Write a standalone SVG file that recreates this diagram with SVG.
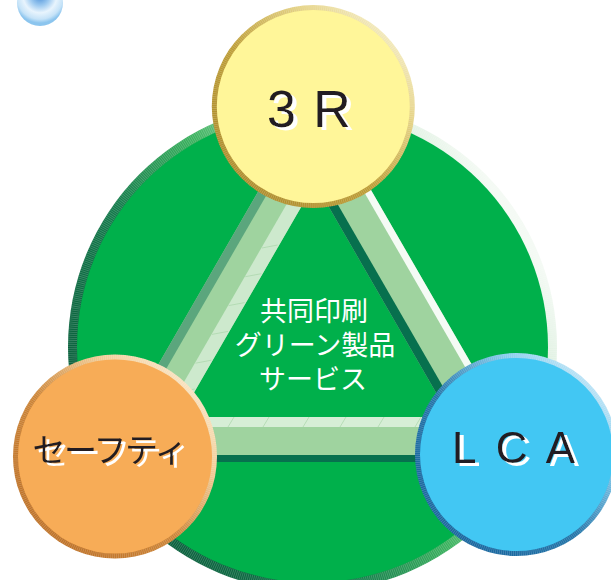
<svg xmlns="http://www.w3.org/2000/svg" width="611" height="580" viewBox="0 0 611 580">
<style>
  .lat{font-family:"Liberation Sans",Arial,sans-serif}
  .jp{font-family:"Noto Sans CJK JP","Noto Sans",sans-serif}
  .jpc{font-family:"Liberation Sans","Noto Sans CJK JP",sans-serif}
  .ink{fill:#231f20;filter:url(#fSh)}
  .ctr{fill:#ffffff;font-size:27px;text-anchor:middle}
  .tick{fill:none;stroke:#ffffff;stroke-opacity:0.2;stroke-dasharray:0.8 1.2}
  .joint{stroke:#a9d6a9;stroke-width:0.7;fill:none}
</style>
<defs>
  <filter id="fSh" x="-10%" y="-20%" width="130%" height="150%">
    <feOffset in="SourceAlpha" dx="4" dy="3" result="o"/>
    <feFlood flood-color="#ffffff"/>
    <feComposite in2="o" operator="in" result="w"/>
    <feMerge><feMergeNode in="w"/><feMergeNode in="SourceGraphic"/></feMerge>
  </filter>
  <linearGradient id="gRimBig" gradientUnits="userSpaceOnUse" x1="100" y1="450" x2="500" y2="200">
    <stop offset="0" stop-color="#0a5e3c"/>
    <stop offset="0.3" stop-color="#137a4b"/>
    <stop offset="0.52" stop-color="#3bb25e"/>
    <stop offset="0.72" stop-color="#b9e0c0"/>
    <stop offset="1" stop-color="#f4faf4"/>
  </linearGradient>
  <linearGradient id="gRim3R" x1="0" y1="1" x2="1" y2="0">
    <stop offset="0" stop-color="#a8862a"/>
    <stop offset="0.45" stop-color="#bd9d35"/>
    <stop offset="0.72" stop-color="#e6d488"/>
    <stop offset="1" stop-color="#fffff0"/>
  </linearGradient>
  <linearGradient id="gRimS" x1="0" y1="1" x2="1" y2="0">
    <stop offset="0" stop-color="#b86a22"/>
    <stop offset="0.45" stop-color="#cc8436"/>
    <stop offset="0.72" stop-color="#f3cf9a"/>
    <stop offset="1" stop-color="#fff6e6"/>
  </linearGradient>
  <linearGradient id="gRimL" x1="0" y1="1" x2="1" y2="0">
    <stop offset="0" stop-color="#15609a"/>
    <stop offset="0.45" stop-color="#2274a8"/>
    <stop offset="0.72" stop-color="#86cdee"/>
    <stop offset="1" stop-color="#eef9fe"/>
  </linearGradient>
  <radialGradient id="gSphere" cx="40" cy="-4" r="27" gradientUnits="userSpaceOnUse">
    <stop offset="0" stop-color="#4a8fd8"/>
    <stop offset="0.35" stop-color="#9cc9f0"/>
    <stop offset="0.62" stop-color="#e8f4fd"/>
    <stop offset="0.86" stop-color="#c6e3f8"/>
    <stop offset="1" stop-color="#8cc5ee"/>
  </radialGradient>
</defs>

<g id="decor-sphere">
  <circle cx="40" cy="3" r="23" fill="url(#gSphere)"/>
</g>

<g id="node-base">
  <circle cx="312.5" cy="347" r="244.5" fill="url(#gRimBig)"/>
  <circle cx="312.5" cy="347" r="240" class="tick" stroke-width="9"/>
  <circle cx="312.5" cy="347" r="235.5" fill="#00b04b"/>
</g>

<g id="connectors">
  <path d="M315,93 L528,462 L102,462 Z M315,183 L450.1,417 L179.9,417 Z" fill="#9fd39f" fill-rule="evenodd"/>
  <polygon points="315,93 102,462 117.6,453 315,111" fill="#5ba67d"/>
  <polygon points="315,155 155.7,431 179.9,417 315,183" fill="#cde9cd"/>
  <polygon points="315,93 528,462 515.9,455 315,107" fill="#f5fbf5"/>
  <polygon points="315,165 465.7,426 450.1,417 315,183" fill="#07704e"/>
  <polygon points="102,462 528,462 515.9,455 114.1,455" fill="#07704e"/>
  <polygon points="162.6,427 467.4,427 450.1,417 179.9,417" fill="#d6eed6"/>
  <path class="joint" d="M228,427 L234,417 M263,427 L269,417 M303,427 L309,417 M340,427 L346,417 M378,427 L384,417 M415,427 L421,417"/>
  <path class="joint" d="M261.9,248 L277.6,245 M245.3,276.7 L261.4,273.7 M228.6,305.6 L244.6,302.6 M212,334.4 L228,331.4 M195.4,363.2 L211.4,360.2 M178.8,392 L194.8,389"/>
</g>

<g id="node-3r">
  <circle cx="313.3" cy="106.5" r="101.5" fill="url(#gRim3R)"/>
  <circle cx="313.3" cy="106.5" r="99" class="tick" stroke-width="5"/>
  <circle cx="313.3" cy="106.5" r="96.5" fill="#fff699"/>
  <text class="lat ink" x="267" y="127" font-size="52" letter-spacing="1.5">3 R</text>
</g>

<g id="node-safety">
  <circle cx="115" cy="456.5" r="102" fill="url(#gRimS)"/>
  <circle cx="115" cy="456.5" r="99.5" class="tick" stroke-width="5"/>
  <circle cx="115" cy="456.5" r="97" fill="#f7ac57"/>
  <text class="jp ink" x="32.5" y="462" font-size="33" letter-spacing="-1.5">セーフティ</text>
</g>

<g id="node-lca">
  <circle cx="516.5" cy="454.5" r="101.5" fill="url(#gRimL)"/>
  <circle cx="516.5" cy="454.5" r="99" class="tick" stroke-width="5"/>
  <circle cx="516.5" cy="454.5" r="96.5" fill="#42c7f3"/>
  <text class="lat ink" x="452" y="463" font-size="44" letter-spacing="4.3">L C A</text>
</g>

<g id="node-center">
  <text class="jpc ctr" x="314" y="321">共同印刷</text>
  <text class="jpc ctr" x="315" y="355">グリーン製品</text>
  <text class="jpc ctr" x="313" y="389">サービス</text>
</g>
</svg>
